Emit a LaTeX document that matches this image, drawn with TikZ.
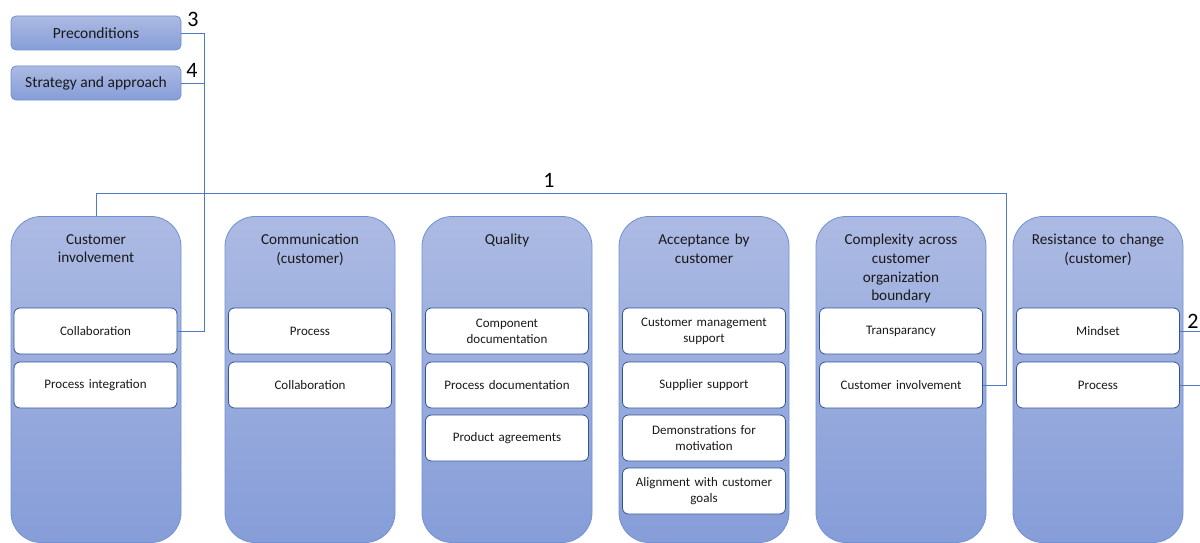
\documentclass[tikz,border=0pt]{standalone}
\usepackage{fontspec}
\setmainfont{Carlito}
\definecolor{coltop}{RGB}{172,186,227}
\definecolor{colbot}{RGB}{134,157,216}
\definecolor{colline}{RGB}{112,145,210}
\definecolor{itemline}{RGB}{50,84,145}
\definecolor{wire}{RGB}{80,120,200}
\definecolor{ink}{RGB}{25,25,25}
\begin{document}
\begin{tikzpicture}[x=1pt,y=-1pt,
  column/.style={draw=colline, line width=0.8pt, top color=coltop, bottom color=colbot,
    rounded corners=30pt, minimum width=170pt, minimum height=326pt, inner sep=0pt},
  coltitle/.style={anchor=north, text width=150pt, align=center, font=\fontsize{15.2}{18.7}\selectfont, text=ink, inner sep=0pt},
  item/.style={draw=itemline, line width=0.8pt, fill=white, rounded corners=6pt,
    minimum width=163pt, minimum height=46pt, text width=150pt, align=center,
    font=\fontsize{13}{16}\selectfont, text=ink, inner sep=0pt},
  topbox/.style={draw=colline, line width=0.8pt, top color=coltop, bottom color=colbot,
    rounded corners=5pt, minimum width=170pt, minimum height=34pt,
    font=\fontsize{15.5}{17}\selectfont, text=ink, inner sep=0pt},
  wire/.style={draw=wire, line width=0.7pt},
  num/.style={font=\fontsize{22}{22}\selectfont, text=black, inner sep=0pt}]
\useasboundingbox (0,0) rectangle (1200,543);

% upper boxes
\node[topbox] (pre) at (96,33) {Preconditions};
\node[topbox] (strat) at (96,83) {Strategy and approach};

% columns
\node[column] (c1) at (96,379.5) {};
\node[column] (c2) at (310,379.5) {};
\node[column] (c3) at (507,379.5) {};
\node[column] (c4) at (704,379.5) {};
\node[column] (c5) at (901,379.5) {};
\node[column] (c6) at (1098,379.5) {};

% column titles
\node[coltitle] (t1) at (96,234) {Customer\\involvement};
\node[coltitle] (t2) at (310,234) {Communication\\(customer)};
\node[coltitle] (t3) at (507,234) {Quality};
\node[coltitle] (t4) at (704,234) {Acceptance by\\customer};
\node[coltitle] (t5) at (901,234) {Complexity across\\customer\\organization\\boundary};
\node[coltitle] (t6) at (1098,234) {Resistance to change\\(customer)};

% items
\node[item] (i11) at (95.5,331) {Collaboration};
\node[item] (i12) at (95.5,385) {Process integration};
\node[item] (i21) at (310,331) {Process};
\node[item] (i22) at (310,385) {Collaboration};
\node[item] (i31) at (507,331) {Component\\documentation};
\node[item] (i32) at (507,385) {Process documentation};
\node[item] (i33) at (507,438) {Product agreements};
\node[item] (i41) at (704,331) {Customer management\\support};
\node[item] (i42) at (704,385) {Supplier support};
\node[item] (i43) at (704,438) {Demonstrations for\\motivation};
\node[item] (i44) at (704,491) {Alignment with customer\\goals};
\node[item] (i51) at (901,331) {Transparancy};
\node[item] (i52) at (901,385) {Customer involvement};
\node[item] (i61) at (1098,331) {Mindset};
\node[item] (i62) at (1098,385) {Process};

% connector junctions
\coordinate (j34) at (204,33);
\coordinate (j1) at (1006,193);
\coordinate (r1) at (1200,331);
\coordinate (r2) at (1200,385);

% connectors
\draw[wire] (pre.east) -- (j34) |- (i11.east);
\draw[wire] (strat.east) -- (strat.east -| j34);
\draw[wire] (c1.north) |- (j1) |- (i52.east);
\draw[wire] (i61.east) -- (r1);
\draw[wire] (i62.east) -- (r2);

% labels
\node[num] (n1) at (549,180) {1};
\node[num] (n2) at (1193,321) {2};
\node[num] (n3) at (193,19) {3};
\node[num] (n4) at (192,70) {4};
\end{tikzpicture}
\end{document}
